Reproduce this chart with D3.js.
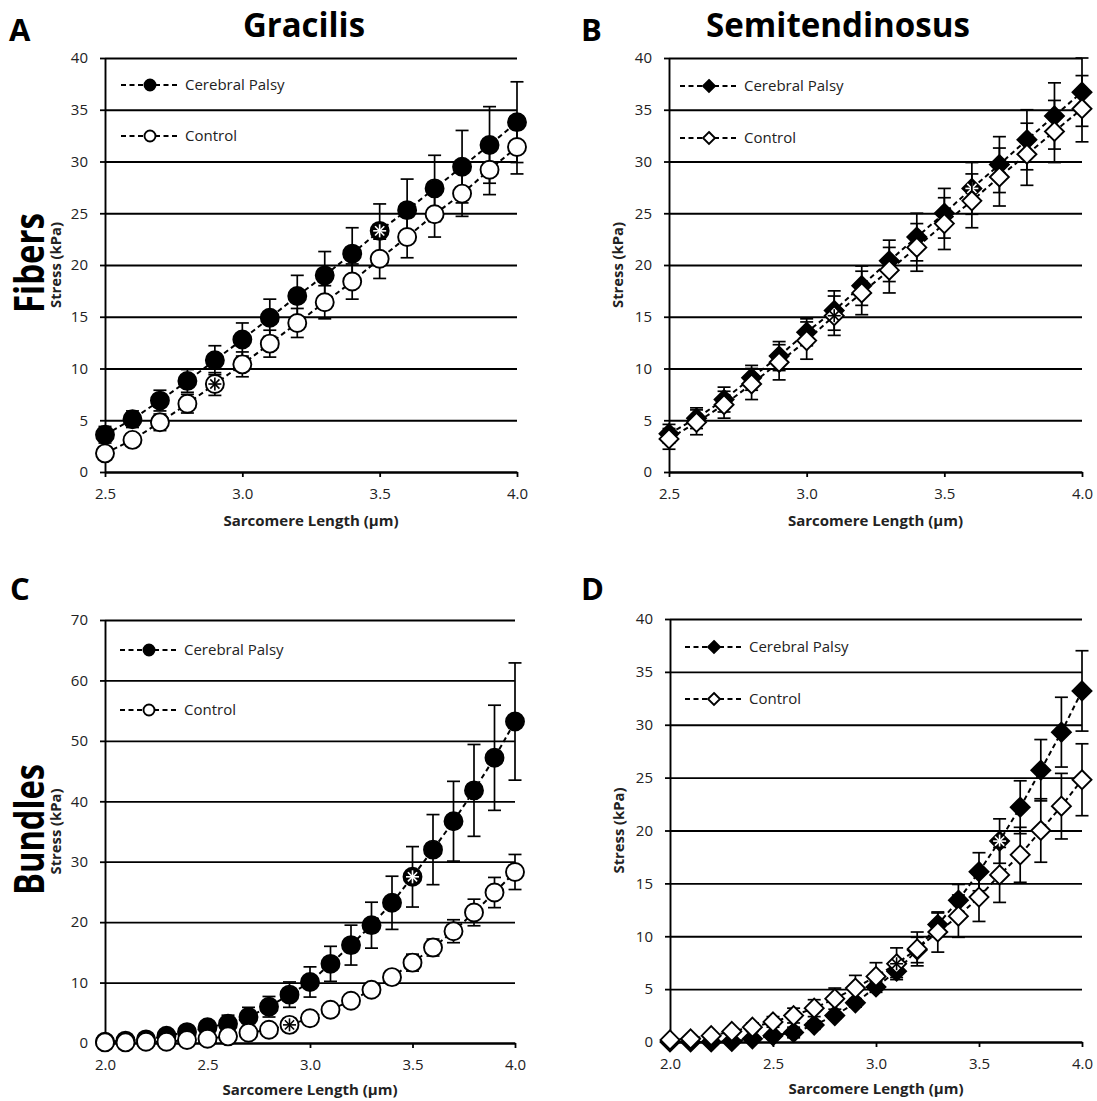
<!DOCTYPE html>
<html>
<head>
<meta charset="utf-8">
<script src="https://cdn.jsdelivr.net/npm/d3@7"></script>
<style>
  body { margin: 0; background: #fff; }
  text { font-family: "Open Sans", "DejaVu Sans", sans-serif; }
</style>
</head>
<body>
<script>
// x categories (sarcomere length, um)
var xFibers = [2.5, 2.6, 2.7, 2.8, 2.9, 3.0, 3.1, 3.2, 3.3, 3.4, 3.5, 3.6, 3.7, 3.8, 3.9, 4.0];
var xBundles = [2.0, 2.1, 2.2, 2.3, 2.4, 2.5, 2.6, 2.7, 2.8, 2.9, 3.0, 3.1, 3.2, 3.3, 3.4, 3.5, 3.6, 3.7, 3.8, 3.9, 4.0];

// tick values
var xTicksFibers = [2.5, 3.0, 3.5, 4.0];
var xTicksBundles = [2.0, 2.5, 3.0, 3.5, 4.0];
var yTicks40 = [0, 5, 10, 15, 20, 25, 30, 35, 40];
var yTicks70 = [0, 10, 20, 30, 40, 50, 60, 70];

// A: gracilis fibers
var graFibCP     = [3.6, 5.1, 6.9, 8.8, 10.8, 12.8, 14.9, 17.0, 19.0, 21.1, 23.3, 25.3, 27.4, 29.5, 31.6, 33.8];
var graFibCPErr  = [0.8, 0.8, 1.0, 1.1, 1.4, 1.6, 1.8, 2.0, 2.3, 2.5, 2.6, 3.0, 3.2, 3.5, 3.7, 3.9];
var graFibCtl    = [1.8, 3.1, 4.8, 6.6, 8.5, 10.4, 12.4, 14.4, 16.4, 18.4, 20.6, 22.7, 24.9, 26.9, 29.2, 31.4];
var graFibCtlErr = [0.5, 0.6, 0.8, 0.9, 1.1, 1.2, 1.3, 1.4, 1.6, 1.7, 1.9, 2.0, 2.2, 2.2, 2.4, 2.6];

// B: semitendinosus fibers
var semFibCP     = [3.7, 5.2, 7.0, 9.1, 11.2, 13.5, 15.6, 18.0, 20.4, 22.7, 25.0, 27.4, 29.7, 32.1, 34.4, 36.7];
var semFibCPErr  = [0.9, 1.0, 1.2, 1.2, 1.4, 1.3, 1.9, 1.9, 2.0, 2.3, 2.4, 2.5, 2.7, 2.9, 3.2, 3.3];
var semFibCtl    = [3.2, 4.8, 6.5, 8.5, 10.6, 12.7, 15.1, 17.3, 19.5, 21.7, 24.0, 26.2, 28.5, 30.7, 32.9, 35.1];
var semFibCtlErr = [1.0, 1.2, 1.3, 1.5, 1.7, 1.8, 1.9, 2.1, 2.2, 2.3, 2.5, 2.6, 2.8, 3.0, 3.0, 3.2];

// C: gracilis bundles
var graBunCP     = [0.2, 0.4, 0.6, 1.2, 1.8, 2.6, 3.2, 4.3, 6.0, 8.0, 10.1, 13.1, 16.2, 19.5, 23.2, 27.5, 32.0, 36.7, 41.8, 47.2, 53.2];
var graBunCPErr  = [0.1, 0.2, 0.3, 0.3, 0.4, 0.5, 1.4, 1.6, 1.7, 2.1, 2.5, 2.9, 3.3, 3.8, 4.4, 5.0, 5.8, 6.6, 7.6, 8.7, 9.7];
var graBunCtl    = [0.1, 0.1, 0.2, 0.2, 0.5, 0.7, 1.1, 1.7, 2.2, 3.0, 4.1, 5.5, 7.0, 8.8, 10.9, 13.3, 15.8, 18.5, 21.6, 24.9, 28.3];
var graBunCtlErr = [0.1, 0.1, 0.1, 0.1, 0.2, 0.2, 0.3, 0.3, 0.4, 0.4, 0.4, 0.5, 0.6, 0.7, 0.8, 1.4, 1.4, 1.9, 2.2, 2.5, 2.9];

// D: semitendinosus bundles
var semBunCP     = [0.0, 0.0, 0.0, 0.05, 0.3, 0.6, 0.9, 1.6, 2.5, 3.7, 5.2, 6.7, 8.7, 11.1, 13.4, 16.1, 19.0, 22.2, 25.7, 29.3, 33.2];
var semBunCPErr  = [0.1, 0.1, 0.1, 0.1, 0.2, 0.3, 0.5, 0.4, 0.3, 0.4, 0.5, 0.6, 1.2, 1.1, 1.5, 1.8, 2.1, 2.5, 2.9, 3.3, 3.8];
var semBunCtl    = [0.2, 0.3, 0.6, 1.0, 1.4, 1.9, 2.5, 3.2, 4.1, 5.1, 6.2, 7.4, 8.8, 10.4, 11.9, 13.7, 15.8, 17.7, 20.0, 22.3, 24.8];
var semBunCtlErr = [0.1, 0.1, 0.2, 0.3, 0.4, 0.5, 0.7, 0.8, 1.0, 1.2, 1.3, 1.5, 1.6, 1.9, 2.0, 2.3, 2.6, 2.6, 3.0, 3.1, 3.4];

// points marked as significant (asterisk inside the marker)
var sigGraFib = {cp: 3.5, ctl: 2.9};
var sigSemFib = {cp: 3.6, ctl: 3.1};
var sigGraBun = {cp: 3.5, ctl: 2.9};
var sigSemBun = {cp: 3.6, ctl: 3.1};

var svg = d3.select("body").append("svg")
    .attr("width", 1097)
    .attr("height", 1101);

var fmt = d3.format(".1f");

function marker(sel, shape, size, filled) {
    if (shape == "circle") {
        sel.append("circle").attr("r", size)
            .attr("fill", filled ? "#000" : "#fff")
            .attr("stroke", "#000").attr("stroke-width", 1.9);
    } else {
        sel.append("path")
            .attr("d", "M0," + (-size) + "L" + size + ",0L0," + size + "L" + (-size) + ",0Z")
            .attr("fill", filled ? "#000" : "#fff")
            .attr("stroke", "#000").attr("stroke-width", 1.9);
    }
}

function asterisk(sel, r, color) {
    [0, 45, 90, 135].forEach(function(a) {
        sel.append("line")
            .attr("x1", 0).attr("y1", -r).attr("x2", 0).attr("y2", r)
            .attr("transform", "rotate(" + a + ")")
            .attr("stroke", color).attr("stroke-width", 1.6);
    });
}

function series(g, x, y, xs, vals, errs, shape, filled, sigX) {
    var data = xs.map(function(d, i) { return {x: d, v: vals[i], e: errs[i]}; });

    // error bars
    var eb = g.append("g");
    data.forEach(function(d) {
        var cx = x(d.x);
        eb.append("line").attr("x1", cx).attr("x2", cx)
            .attr("y1", y(d.v - d.e)).attr("y2", y(d.v + d.e))
            .attr("stroke", "#000").attr("stroke-width", 1.7);
        [d.v - d.e, d.v + d.e].forEach(function(v) {
            eb.append("line").attr("x1", cx - 6.5).attr("x2", cx + 6.5)
                .attr("y1", y(v)).attr("y2", y(v))
                .attr("stroke", "#000").attr("stroke-width", 1.7);
        });
    });

    // dashed line
    g.append("path")
        .datum(data)
        .attr("fill", "none")
        .attr("stroke", "#000")
        .attr("stroke-width", 2)
        .attr("stroke-dasharray", "5,3.5")
        .attr("d", d3.line().x(function(d) { return x(d.x); }).y(function(d) { return y(d.v); }));

    // markers
    g.selectAll("g.pt").data(data).enter().append("g")
        .attr("transform", function(d) { return "translate(" + x(d.x) + "," + y(d.v) + ")"; })
        .each(function(d) {
            var s = d3.select(this);
            marker(s, shape, shape == "circle" ? 9 : 9.5, filled);
            if (Math.abs(d.x - sigX) < 1e-6) asterisk(s, 6.5, filled ? "#fff" : "#000");
        });
}

function drawPanel(p) {
    var x = d3.scaleLinear().domain(p.xDomain).range(p.xRange);
    var y = d3.scaleLinear().domain(p.yDomain).range(p.yRange);
    var g = svg.append("g");
    var w = p.xRange[1] - p.xRange[0];

    // horizontal gridlines
    g.append("g")
        .attr("transform", "translate(" + p.xRange[0] + ",0)")
        .call(d3.axisRight(y).tickValues(p.yTicks).tickSize(w).tickFormat(""))
        .call(function(a) { a.select(".domain").remove(); })
        .selectAll("line").attr("stroke", "#000").attr("stroke-width", 1.8);

    // y axis
    var ya = g.append("g")
        .attr("transform", "translate(" + p.xRange[0] + ",0)")
        .call(d3.axisLeft(y).tickValues(p.yTicks).tickSize(5).tickSizeOuter(0).tickPadding(12));
    ya.select(".domain").attr("stroke", "#000").attr("stroke-width", 1.9);
    ya.selectAll("line").attr("stroke", "#000").attr("stroke-width", 1.8);
    ya.selectAll("text").attr("font-size", 15).attr("fill", "#222")
        .style("font-family", "'Open Sans', sans-serif");

    // x axis
    var xa = g.append("g")
        .attr("transform", "translate(0," + p.yRange[0] + ")")
        .call(d3.axisBottom(x).tickValues(p.xTicks).tickSize(5).tickSizeOuter(0).tickPadding(11).tickFormat(fmt));
    xa.select(".domain").attr("stroke", "#000").attr("stroke-width", 1.9);
    xa.selectAll("line").attr("stroke", "#000").attr("stroke-width", 1.8);
    xa.selectAll("text").attr("font-size", 15).attr("fill", "#222")
        .style("font-family", "'Open Sans', sans-serif");

    // axis titles
    g.append("text")
        .attr("x", (p.xRange[0] + p.xRange[1]) / 2)
        .attr("y", p.yRange[0] + p.xTitleDy)
        .attr("text-anchor", "middle")
        .attr("font-size", 15).attr("font-weight", "bold").attr("fill", "#222")
        .text("Sarcomere Length (µm)");

    var ym = (p.yRange[0] + p.yRange[1]) / 2;
    g.append("text")
        .attr("transform", "translate(" + p.stressX + "," + ym + ") rotate(-90)")
        .attr("text-anchor", "middle")
        .attr("font-size", 15).attr("font-weight", "bold").attr("fill", "#222")
        .attr("textLength", 86).attr("lengthAdjust", "spacingAndGlyphs")
        .text("Stress (kPa)");

    if (p.rowLabel) {
        g.append("text")
            .attr("transform", "translate(44," + (ym - 2) + ") rotate(-90)")
            .attr("text-anchor", "middle")
            .attr("font-size", 41).attr("font-weight", "bold").attr("fill", "#000")
            .attr("textLength", p.rowLabelLen).attr("lengthAdjust", "spacingAndGlyphs")
            .text(p.rowLabel);
    }

    // panel letter
    g.append("text")
        .attr("x", p.letterX).attr("y", p.letterY)
        .attr("font-size", 31).attr("font-weight", "bold").attr("fill", "#000")
        .text(p.letter);

    if (p.title) {
        g.append("text")
            .attr("x", p.titleX).attr("y", 37)
            .attr("text-anchor", "middle")
            .attr("font-size", 34).attr("font-weight", "bold").attr("fill", "#000")
            .attr("textLength", p.titleLen).attr("lengthAdjust", "spacingAndGlyphs")
            .text(p.title);
    }

    // data
    series(g, x, y, p.xs, p.cp, p.cpErr, p.shape, true, p.sig.cp);
    series(g, x, y, p.xs, p.ctl, p.ctlErr, p.shape, false, p.sig.ctl);

    // legend
    var leg = [{name: "Cerebral Palsy", filled: true, y: p.legY[0]},
               {name: "Control", filled: false, y: p.legY[1]}];
    leg.forEach(function(l) {
        var lg = g.append("g");
        lg.append("line")
            .attr("x1", p.legX[0]).attr("x2", p.legX[2])
            .attr("y1", l.y).attr("y2", l.y)
            .attr("stroke", "#000").attr("stroke-width", 2)
            .attr("stroke-dasharray", "5,3.5");
        var m = lg.append("g").attr("transform", "translate(" + p.legX[1] + "," + l.y + ")");
        marker(m, p.shape, p.shape == "circle" ? 5.5 : 6, l.filled);
        lg.append("text")
            .attr("x", p.legX[2] + 6).attr("y", l.y + 5)
            .attr("font-size", 15).attr("fill", "#222")
            .text(l.name);
    });
}

drawPanel({
    letter: "A", letterX: 9, letterY: 41,
    title: "Gracilis", titleX: 304, titleLen: 122,
    rowLabel: "Fibers", rowLabelLen: 100,
    xDomain: [2.5, 4.0], xRange: [105, 517],
    yDomain: [0, 40], yRange: [472, 58],
    xTicks: xTicksFibers, yTicks: yTicks40, xTitleDy: 54,
    xs: xFibers, cp: graFibCP, cpErr: graFibCPErr, ctl: graFibCtl, ctlErr: graFibCtlErr,
    sig: sigGraFib, shape: "circle", stressX: 61,
    legX: [121, 150, 179], legY: [85, 136]
});

drawPanel({
    letter: "B", letterX: 581, letterY: 41,
    title: "Semitendinosus", titleX: 838, titleLen: 264,
    xDomain: [2.5, 4.0], xRange: [669, 1082],
    yDomain: [0, 40], yRange: [472, 58],
    xTicks: xTicksFibers, yTicks: yTicks40, xTitleDy: 54,
    xs: xFibers, cp: semFibCP, cpErr: semFibCPErr, ctl: semFibCtl, ctlErr: semFibCtlErr,
    sig: sigSemFib, shape: "diamond", stressX: 623,
    legX: [680, 709, 738], legY: [86, 138]
});

drawPanel({
    letter: "C", letterX: 10, letterY: 600,
    rowLabel: "Bundles", rowLabelLen: 131,
    xDomain: [2.0, 4.0], xRange: [105, 515],
    yDomain: [0, 70], yRange: [1043, 620],
    xTicks: xTicksBundles, yTicks: yTicks70, xTitleDy: 52,
    xs: xBundles, cp: graBunCP, cpErr: graBunCPErr, ctl: graBunCtl, ctlErr: graBunCtlErr,
    sig: sigGraBun, shape: "circle", stressX: 61,
    legX: [120, 149, 178], legY: [650, 710]
});

drawPanel({
    letter: "D", letterX: 581, letterY: 600,
    xDomain: [2.0, 4.0], xRange: [670, 1082],
    yDomain: [0, 40], yRange: [1042, 619],
    xTicks: xTicksBundles, yTicks: yTicks40, xTitleDy: 52,
    xs: xBundles, cp: semBunCP, cpErr: semBunCPErr, ctl: semBunCtl, ctlErr: semBunCtlErr,
    sig: sigSemBun, shape: "diamond", stressX: 624,
    legX: [685, 714, 743], legY: [647, 699]
});
</script>
</body>
</html>
